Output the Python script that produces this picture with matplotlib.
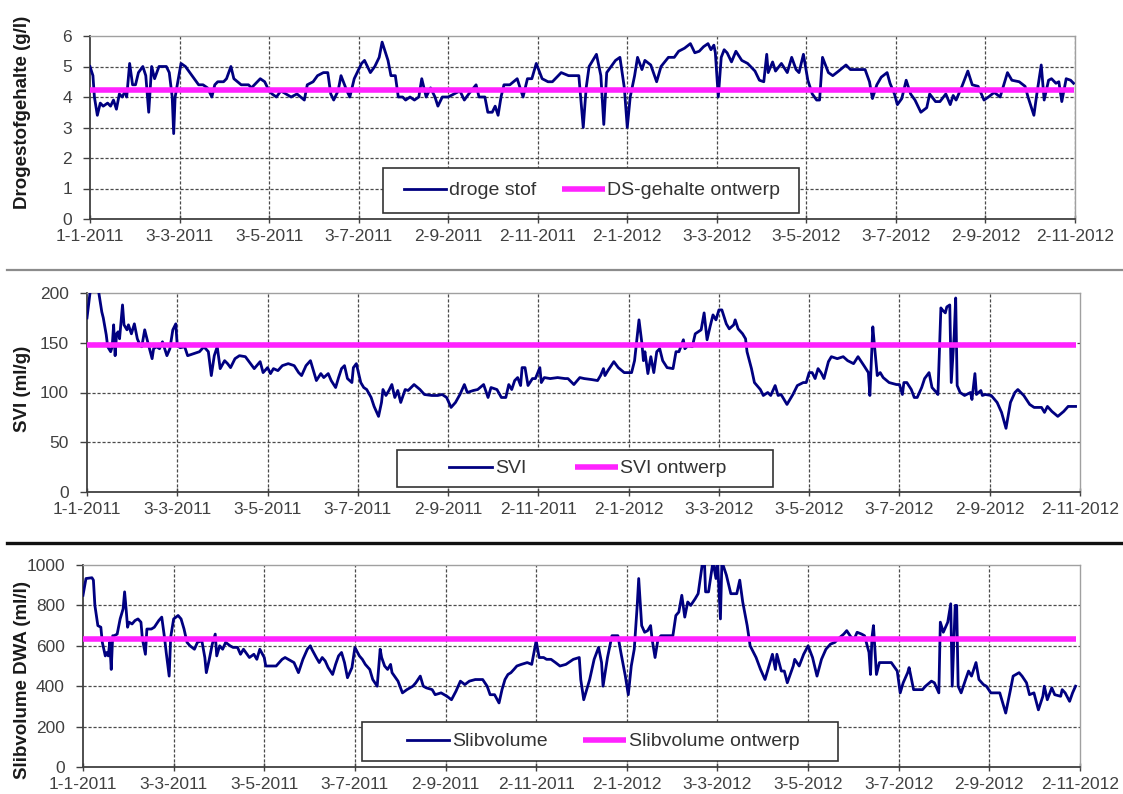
import pandas as pd
import matplotlib
matplotlib.use('Agg')
import matplotlib.pyplot as plt
from matplotlib.patches import Rectangle
from matplotlib.lines import Line2D

plt.rcParams['font.family'] = ['Liberation Sans', 'DejaVu Sans']

start = pd.Timestamp('2011-01-01')
end = pd.Timestamp('2012-11-02')

# droge stof (g/l), days counted from 1-1-2011
ds_days = [0, 2, 3, 5, 7, 9, 12, 14, 16, 18, 20, 22, 24, 25, 27, 29, 31, 33, 36, 38,
           40, 42, 44, 47, 52, 54, 56, 57, 58, 62, 65, 74, 77, 80, 83, 85, 87, 91, 93, 96,
           98, 103, 108, 110, 116, 119, 122, 124, 127, 130, 137, 141, 146, 148, 152, 155, 159, 162, 164, 166,
           169, 171, 175, 177, 180, 185, 187, 191, 194, 197, 199, 203, 205, 208, 210, 213, 215, 218, 221, 224,
           226, 229, 232, 235, 237, 240, 244, 248, 252, 255, 258, 263, 265, 269, 271, 274, 276, 278, 280, 282,
           286, 291, 295, 298, 301, 304, 308, 312, 315, 321, 326, 331, 333, 336, 338, 340, 345, 348, 350, 352,
           355, 358, 361, 364, 366, 368, 371, 373, 376, 378, 382, 386, 389, 394, 398, 401, 405, 409, 412, 415,
           418, 421, 423, 425, 426, 428, 430, 432, 434, 437, 440, 444, 448, 453, 456, 459, 461, 462, 465, 467,
           471, 475, 478, 481, 483, 486, 489, 492, 495, 497, 499, 503, 506, 510, 515, 518, 525, 528, 531, 533,
           536, 539, 543, 545, 548, 550, 553, 556, 559, 562, 566, 570, 572, 576, 579, 583, 586, 588, 590, 594,
           598, 601, 605, 609, 612, 616, 620, 625, 628, 633, 637, 639, 643, 645, 648, 650, 653, 655, 658, 660,
           662, 665, 668, 670]
ds_vals = [5.0, 4.7, 4.0, 3.4, 3.8, 3.7, 3.8, 3.7, 3.9, 3.6, 4.1, 4.0, 4.2, 4.0, 5.1, 4.4, 4.4, 4.8, 5.0, 4.7,
           3.5, 5.0, 4.6, 5.0, 5.0, 4.8, 4.0, 2.8, 4.0, 5.1, 5.0, 4.4, 4.4, 4.3, 4.0, 4.4, 4.5, 4.5, 4.6, 5.0,
           4.6, 4.4, 4.4, 4.3, 4.6, 4.5, 4.2, 4.1, 4.0, 4.2, 4.0, 4.1, 3.9, 4.4, 4.5, 4.7, 4.8, 4.8, 4.1, 3.9,
           4.2, 4.7, 4.2, 4.0, 4.6, 5.1, 5.2, 4.8, 5.0, 5.3, 5.8, 5.2, 4.7, 4.7, 4.0, 4.0, 3.9, 4.0, 3.9, 4.0,
           4.6, 4.0, 4.3, 4.0, 3.7, 4.0, 4.0, 4.1, 4.2, 3.9, 4.1, 4.4, 4.0, 4.0, 3.5, 3.5, 3.7, 3.4, 4.0, 4.4,
           4.4, 4.6, 4.0, 4.6, 4.6, 5.1, 4.6, 4.5, 4.5, 4.8, 4.7, 4.7, 4.7, 3.0, 4.3, 5.0, 5.4, 4.7, 3.1, 4.8,
           5.0, 5.2, 5.3, 4.3, 3.0, 4.0, 4.7, 5.3, 4.9, 5.2, 5.05, 4.5, 5.0, 5.3, 5.3, 5.5, 5.6, 5.75, 5.45, 5.5,
           5.65, 5.75, 5.55, 5.7, 5.45, 4.0, 5.3, 5.55, 5.45, 5.15, 5.5, 5.2, 5.1, 4.85, 4.55, 4.5, 5.4, 4.8, 5.15, 4.85,
           5.1, 4.8, 5.3, 4.9, 4.8, 5.4, 4.55, 4.1, 3.9, 3.9, 5.3, 4.8, 4.7, 4.85, 5.05, 4.9, 4.9, 4.9, 4.5, 3.95,
           4.4, 4.65, 4.8, 4.45, 4.1, 3.75, 3.95, 4.55, 4.1, 3.9, 3.5, 3.65, 4.1, 3.85, 3.85, 4.1, 3.75, 4.05, 3.9, 4.35,
           4.85, 4.4, 4.35, 3.9, 4.0, 4.15, 4.0, 4.8, 4.55, 4.5, 4.35, 4.0, 3.4, 4.1, 5.05, 3.9, 4.55, 4.6, 4.45, 4.5,
           3.85, 4.6, 4.55, 4.45]
ds_design = 4.23

# SVI (ml/g)
svi_days = [0, 2, 3, 6, 8, 10, 11, 13, 14, 16, 17, 18, 19, 20, 21, 22, 24, 25, 27, 28,
            30, 32, 34, 36, 37, 39, 41, 44, 45, 47, 49, 51, 54, 56, 58, 60, 61, 63, 66, 68,
            72, 76, 79, 82, 84, 86, 88, 90, 93, 95, 97, 100, 103, 107, 109, 113, 117, 119, 122, 124,
            126, 129, 132, 136, 140, 143, 145, 148, 151, 153, 155, 158, 160, 163, 165, 168, 170, 172, 174, 176,
            179, 180, 182, 185, 187, 189, 192, 194, 197, 199, 200, 202, 204, 206, 208, 210, 212, 215, 217, 221,
            225, 228, 233, 237, 240, 243, 246, 249, 252, 255, 257, 261, 264, 268, 271, 273, 277, 280, 283, 285,
            287, 289, 291, 293, 294, 296, 298, 301, 303, 306, 307, 309, 313, 318, 323, 325, 329, 333, 336, 341,
            345, 347, 349, 350, 352, 356, 359, 363, 368, 370, 373, 375, 376, 377, 379, 381, 383, 385, 387, 389,
            392, 396, 398, 400, 403, 404, 406, 409, 411, 415, 417, 419, 421, 423, 425, 427, 429, 432, 434, 437,
            438, 440, 443, 445, 446, 449, 451, 455, 457, 460, 462, 465, 467, 469, 473, 477, 480, 484, 486, 488,
            490, 492, 494, 496, 498, 501, 503, 507, 511, 514, 518, 521, 525, 528, 529, 531, 532, 534, 536, 538,
            542, 547, 549, 551, 552, 554, 557, 559, 561, 564, 566, 569, 571, 574, 575, 577, 578, 580, 581, 583,
            584, 586, 587, 588, 590, 593, 597, 598, 600, 601, 604, 605, 607, 611, 615, 618, 621, 624, 627, 629,
            633, 637, 640, 645, 647, 649, 652, 656, 660, 663, 668]
svi_vals = [175, 200, 212, 212, 200, 181, 175, 158, 146, 141, 146, 168, 137, 159, 161, 154, 188, 168, 163, 168,
            159, 169, 154, 147, 146, 163, 151, 134, 144, 146, 144, 151, 137, 144, 163, 169, 147, 145, 146, 137,
            139, 141, 146, 141, 117, 137, 146, 124, 132, 129, 125, 134, 137, 136, 132, 124, 131, 120, 125, 119,
            124, 122, 127, 129, 127, 120, 117, 127, 132, 122, 112, 119, 115, 119, 112, 105, 115, 124, 127, 114,
            110, 125, 129, 110, 105, 103, 95, 86, 76, 90, 103, 97, 102, 108, 95, 102, 90, 103, 102, 108,
            103, 98, 97, 97, 98, 95, 85, 90, 98, 108, 100, 102, 103, 108, 95, 105, 103, 95, 95, 108,
            103, 112, 115, 107, 125, 125, 107, 114, 114, 125, 110, 115, 114, 115, 114, 114, 108, 115, 114, 113,
            112, 117, 124, 117, 122, 131, 125, 120, 120, 132, 173, 149, 132, 141, 119, 136, 120, 141, 144, 132,
            125, 124, 141, 141, 153, 144, 147, 146, 159, 163, 180, 153, 166, 178, 173, 183, 183, 169, 164, 168,
            173, 164, 159, 154, 141, 124, 110, 103, 97, 100, 97, 107, 97, 98, 88, 98, 107, 110, 110, 120,
            120, 114, 124, 120, 114, 131, 136, 134, 136, 132, 129, 136, 127, 120, 97, 166, 149, 117, 120, 115,
            110, 108, 108, 98, 110, 110, 103, 95, 95, 105, 114, 120, 105, 100, 98, 185, 183, 180, 186, 188,
            110, 158, 195, 107, 100, 97, 100, 93, 119, 98, 102, 97, 98, 97, 90, 80, 64, 90, 100, 103,
            97, 88, 85, 85, 80, 86, 81, 76, 81, 86, 86]
svi_design = 148

# Slibvolume DWA (ml/l)
sv_days = [0, 2, 6, 7, 8, 10, 12, 13, 15, 16, 17, 18, 19, 20, 21, 23, 25, 27, 28, 29,
           30, 31, 33, 35, 37, 39, 40, 42, 43, 46, 48, 51, 53, 55, 56, 58, 59, 61, 64, 66,
           68, 70, 72, 75, 77, 80, 82, 83, 85, 87, 89, 90, 92, 94, 96, 99, 101, 104, 106, 108,
           112, 115, 117, 119, 122, 123, 127, 130, 134, 136, 140, 142, 145, 148, 151, 153, 154, 157, 159, 161,
           163, 165, 168, 170, 172, 174, 176, 178, 181, 183, 186, 188, 190, 193, 195, 198, 200, 201, 203, 205,
           207, 208, 212, 215, 218, 222, 224, 227, 229, 231, 235, 237, 241, 245, 248, 251, 254, 257, 260, 264,
           269, 272, 274, 277, 280, 282, 284, 286, 288, 290, 292, 295, 299, 302, 305, 307, 310, 312, 315, 318,
           321, 325, 330, 334, 335, 337, 341, 344, 347, 349, 350, 353, 356, 360, 362, 365, 367, 369, 371, 373,
           374, 376, 378, 380, 382, 383, 385, 387, 389, 394, 397, 399, 401, 403, 405, 407, 409, 412, 414, 418,
           419, 421, 424, 426, 427, 429, 430, 433, 436, 440, 442, 444, 447, 449, 453, 456, 459, 461, 464, 466,
           467, 470, 472, 474, 478, 479, 482, 485, 488, 491, 494, 497, 500, 503, 506, 508, 512, 514, 517, 519,
           521, 524, 526, 529, 530, 531, 532, 534, 536, 541, 544, 548, 550, 552, 555, 556, 559, 561, 565, 567,
           571, 573, 576, 577, 579, 582, 584, 585, 587, 588, 589, 591, 594, 596, 598, 601, 603, 606, 608, 611,
           617, 619, 621, 624, 626, 630, 632, 635, 637, 640, 643, 646, 647, 649, 652, 654, 658, 659, 661, 664,
           666, 668]
sv_vals = [850, 933, 937, 925, 800, 700, 692, 617, 550, 567, 550, 617, 483, 650, 650, 658, 733, 783, 867, 783,
           692, 717, 708, 725, 733, 717, 633, 558, 683, 683, 692, 725, 742, 633, 567, 450, 642, 733, 750, 733,
           683, 617, 600, 583, 617, 625, 542, 467, 533, 608, 658, 550, 600, 583, 617, 600, 592, 592, 558, 583,
           542, 558, 533, 583, 542, 500, 500, 500, 533, 542, 525, 517, 467, 533, 583, 600, 583, 542, 517, 542,
           525, 492, 458, 508, 550, 567, 517, 442, 492, 592, 550, 533, 508, 483, 433, 400, 583, 542, 500, 483,
           508, 467, 425, 367, 383, 400, 417, 450, 400, 392, 383, 358, 367, 350, 333, 375, 425, 408, 425, 433,
           433, 400, 358, 358, 317, 383, 433, 458, 467, 483, 500, 508, 517, 508, 625, 542, 542, 533, 533, 517,
           500, 508, 533, 542, 433, 333, 433, 533, 592, 517, 400, 542, 650, 650, 567, 450, 358, 500, 583, 800,
           933, 700, 667, 675, 700, 633, 542, 633, 650, 650, 650, 750, 767, 850, 742, 817, 800, 833, 858, 1067,
           867, 867, 1017, 933, 1033, 733, 1017, 950, 858, 858, 925, 817, 700, 600, 542, 483, 433, 483, 558, 483,
           558, 475, 475, 417, 500, 533, 500, 558, 600, 542, 450, 533, 583, 608, 617, 633, 658, 675, 642, 633,
           667, 658, 650, 567, 458, 642, 700, 458, 517, 517, 517, 475, 367, 417, 467, 492, 383, 383, 383, 400,
           425, 417, 367, 717, 667, 717, 808, 400, 800, 800, 400, 367, 433, 475, 450, 517, 433, 408, 400, 367,
           367, 317, 267, 375, 450, 467, 450, 417, 358, 367, 283, 350, 400, 333, 392, 358, 350, 383, 367, 325,
           367, 400]
sv_design = 632

tick_dates = pd.date_range(start, end, freq='61D')
tick_labels = [f'{d.day}-{d.month}-{d.year}' for d in tick_dates]

W, H = 1123, 794
fig = plt.figure(figsize=(W / 100, H / 100), dpi=100)
fig.patch.set_facecolor('white')

navy = '#000080'
magenta = '#ff22ff'
txt = '#404040'


def fx(p):
    return p / W


def fy(p):
    return 1 - p / H


panels = [
    dict(box=(90, 36, 1075, 219), days=ds_days, vals=ds_vals, design=ds_design,
         ymax=6, ystep=1, ylabel='Drogestofgehalte (g/l)', ylab_y=112,
         names=('droge stof', 'DS-gehalte ontwerp'),
         leg_box=(383, 168, 799, 213), leg_c=(592, 190.5), colsp=1.3, last_grid=True),
    dict(box=(87, 293, 1080, 492), days=svi_days, vals=svi_vals, design=svi_design,
         ymax=200, ystep=50, ylabel='SVI (ml/g)', ylab_y=389,
         names=('SVI', 'SVI ontwerp'),
         leg_box=(397, 450, 773, 487), leg_c=(588, 468.5), colsp=2.5, last_grid=False),
    dict(box=(83, 565, 1080, 767), days=sv_days, vals=sv_vals, design=sv_design,
         ymax=1000, ystep=200, ylabel='Slibvolume DWA (ml/l)', ylab_y=680,
         names=('Slibvolume', 'Slibvolume ontwerp'),
         leg_box=(362, 722, 838, 761), leg_c=(603, 741.5), colsp=1.8, last_grid=False),
]

for p in panels:
    l, t, r, b = p['box']
    ax = fig.add_axes([fx(l), fy(b), (r - l) / W, (b - t) / H])
    dates = start + pd.to_timedelta(p['days'], unit='D')
    ax.plot(dates, p['vals'], color=navy, lw=2.0, label=p['names'][0], zorder=3)
    ax.plot(dates, [p['design']] * len(dates), color=magenta, lw=4,
            solid_capstyle='butt', label=p['names'][1], zorder=4)

    ax.set_xlim(start, end)
    ax.set_ylim(0, p['ymax'])
    ax.set_xticks(tick_dates)
    ax.set_xticklabels(tick_labels)
    ax.set_yticks(range(0, p['ymax'] + 1, p['ystep']))
    ax.tick_params(axis='x', direction='inout', length=6, width=1, color=txt,
                   labelsize=12.5, labelcolor=txt, pad=4.5)
    ax.tick_params(axis='y', direction='out', length=5, width=1, color=txt,
                   labelsize=12.5, labelcolor=txt, pad=8)

    ax.grid(True, color='#4a4a4a', lw=0.9, ls=(0, (2.5, 1.5)), zorder=1)
    ax.get_ygridlines()[-1].set_visible(False)
    if not p['last_grid']:
        ax.get_xgridlines()[-1].set_visible(False)
    ax.get_xgridlines()[0].set_visible(False)
    ax.get_ygridlines()[0].set_visible(False)

    for s in ('top', 'right'):
        ax.spines[s].set_color('#a0a0a0')
        ax.spines[s].set_linewidth(1)
    for s in ('left', 'bottom'):
        ax.spines[s].set_color('#404040')
        ax.spines[s].set_linewidth(1.3)

    fig.text(fx(23), fy(p['ylab_y']), p['ylabel'], rotation=90, ha='center', va='center',
             fontsize=13.5, fontweight='bold', color='#1a1a1a')

    lx0, ly0, lx1, ly1 = p['leg_box']
    ax.add_patch(Rectangle((fx(lx0), fy(ly1)), (lx1 - lx0) / W, (ly1 - ly0) / H,
                           transform=fig.transFigure, facecolor='white', edgecolor='#333333',
                           lw=1.2, zorder=4.5, clip_on=False))
    ax.legend(loc='center', bbox_to_anchor=(fx(p['leg_c'][0]), fy(p['leg_c'][1])),
              bbox_transform=fig.transFigure, ncol=2, frameon=False, fontsize=14,
              handlelength=2.2, handletextpad=0.15, columnspacing=p['colsp'],
              borderpad=0.2, labelcolor='#333333')

# separators between the panels
fig.add_artist(Line2D([fx(7), 1], [fy(270), fy(270)], color='#8c8c8c', lw=1.6))
fig.add_artist(Line2D([fx(7), 1], [fy(543), fy(543)], color='#111111', lw=2.4))

fig.savefig('out.png', dpi=100)
